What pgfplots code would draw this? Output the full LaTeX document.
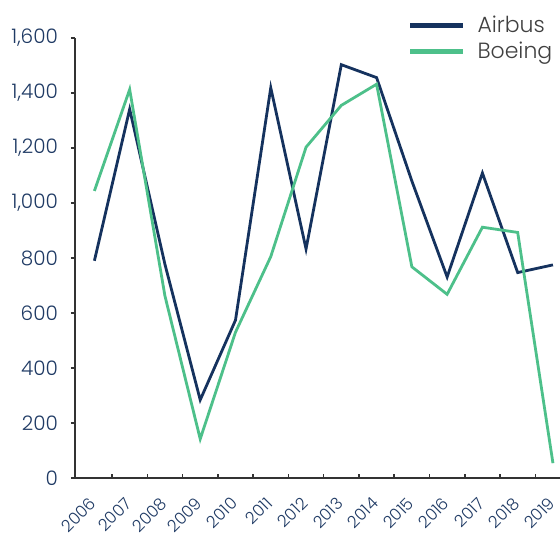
\documentclass[border=0pt]{standalone}
\usepackage{fontspec}
\setmainfont{Poppins}[UprightFont=* Light]
\usepackage{pgfplots}
\pgfplotsset{compat=1.18}
\definecolor{airbus}{HTML}{15325E}
\definecolor{boeing}{HTML}{4DC08A}
\definecolor{ticktext}{HTML}{1F3A64}
\definecolor{legtext}{HTML}{404040}

\begin{document}
\begin{tikzpicture}
\begin{axis}[
    width=242.5pt, height=220pt,
    scale only axis,
    xmin=-0.55, xmax=13.2,
    ymin=0, ymax=1600,
    axis x line=bottom, axis y line=left,
    axis line style={-, draw=black!80, line width=0.8pt},
    xtick={0,...,13},
    xticklabels={2006,2007,2008,2009,2010,2011,2012,2013,2014,2015,2016,2017,2018,2019},
    minor xtick={0.5,1.5,...,12.5},
    major x tick style={draw=none},
    minor x tick style={draw=black!80, line width=0.8pt, yshift=2pt},
    minor tick length=2pt,
    ytick={0,200,...,1600},
    major y tick style={draw=black!80, line width=0.8pt},
    major tick length=2pt,
    tick align=outside,
    /pgf/number format/1000 sep={,},
    /pgf/number format/assume math mode=true,
    ticklabel style={text=ticktext},
    yticklabel style={font=\fontsize{10}{12}\selectfont, xshift=-3pt},
    xticklabel style={font=\fontsize{8.3}{10}\selectfont, xshift=-2.8pt, yshift=-5.4pt,
      rotate=45, anchor=north east, inner sep=1pt},
    legend style={at={(0.685,1.06)}, anchor=north west, draw=none, fill=none,
      font=\fontsize{11}{13}\selectfont, text=legtext, row sep=-1pt,
      inner sep=0pt},
    legend cell align=left,
    legend image code/.code={\draw[#1, line width=2.5pt] (0pt,0pt) -- (26.5pt,0pt);
      \path (31pt,0pt);},
    clip=false,
  ]
  \addplot[airbus, line width=1.4pt] coordinates {
    (0,790) (1,1341) (2,777) (3,284) (4,574) (5,1419) (6,833)
    (7,1503) (8,1456) (9,1080) (10,731) (11,1109) (12,747) (13,775)
  };
  \addlegendentry{Airbus}
  \addplot[boeing, line width=1.4pt] coordinates {
    (0,1044) (1,1413) (2,662) (3,142) (4,530) (5,805) (6,1203)
    (7,1355) (8,1432) (9,768) (10,668) (11,912) (12,893) (13,54)
  };
  \addlegendentry{Boeing}
  \coordinate (bl) at (rel axis cs:0,0);
\end{axis}
\pgfresetboundingbox
\path ([xshift=-37.5pt,yshift=-27pt]bl) rectangle ([xshift=242.5pt,yshift=239pt]bl);
\end{tikzpicture}
\end{document}
